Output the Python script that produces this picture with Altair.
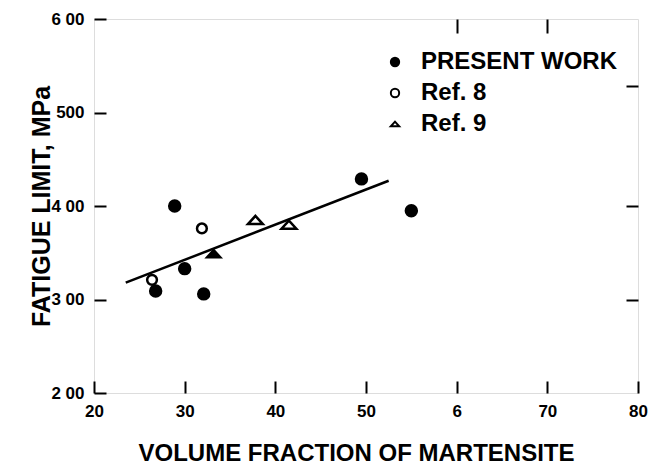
import altair as alt
import pandas as pd

# ---- data ----
series_names = ["PRESENT WORK", "Ref. 8", "Ref. 9"]

present_x = [28.9, 30.0, 26.8, 32.1, 49.5, 55.0]
present_y = [400, 333, 309, 306, 429, 395]
ref8_x = [31.9, 26.4]
ref8_y = [376, 321]
ref9_x = [37.8, 41.5]
ref9_y = [385, 380]
ref9_solid_x = [33.2]
ref9_solid_y = [349]

fit_x = [23.5, 52.5]
fit_y = [318, 427]

x_ticks = [20, 30, 40, 50, 60, 70, 80]
x_tick_labels = ["20", "30", "40", "50", "6", "70", "80"]
y_ticks = [200, 300, 400, 500, 600]
y_tick_labels = ["2 00", "3 00", "4 00", "500", "6 00"]

top_ticks = [60, 70]
right_ticks = [300, 400, 528]

# ---- styling ----
X0, X1, Y0, Y1 = 20, 80, 200, 600
W, H = 544, 374
TICK = 12
TRI = "M -1 0.55 L 1 0.55 L 0 -0.55 Z"
FONT = "Liberation Sans"
marker_area = {"PRESENT WORK": 120, "Ref. 8": 95, "Ref. 9": 220}

# ---- tables ----
series_col = ([series_names[0]] * len(present_x)
              + [series_names[1]] * len(ref8_x)
              + [series_names[2]] * len(ref9_x))
pts = pd.DataFrame({
    "x": present_x + ref8_x + ref9_x,
    "y": present_y + ref8_y + ref9_y,
    "series": series_col,
    "area": [marker_area[s] for s in series_col],
})
solid_tri = pd.DataFrame({"x": ref9_solid_x, "y": ref9_solid_y})
fit = pd.DataFrame({"x": fit_x, "y": fit_y})


def label_expr(values, labels):
    expr = "datum.label"
    for v, l in zip(values, labels):
        expr = f"datum.value == {v} ? '{l}' : ({expr})"
    return expr


xscale = alt.Scale(domain=[X0, X1], nice=False, zero=False)
yscale = alt.Scale(domain=[Y0, Y1], nice=False, zero=False)

common = dict(domain=False, grid=False, ticks=True, tickColor="black",
              tickWidth=2, labelColor="black", titleColor="black",
              labelFlush=False, labelOverlap=False)

xaxis = alt.Axis(
    values=x_ticks, labelExpr=label_expr(x_ticks, x_tick_labels),
    title="VOLUME FRACTION OF MARTENSITE", orient="bottom",
    offset=-TICK, tickSize=TICK, titleX=262,
    labelPadding=10, titlePadding=22, labelFontSize=17, labelFont=FONT,
    labelFontWeight="bold", titleFont=FONT, titleFontSize=24, titleFontWeight="bold",
    **common,
)
yaxis = alt.Axis(
    values=y_ticks, labelExpr=label_expr(y_ticks, y_tick_labels),
    title="FATIGUE LIMIT, MPa", orient="left",
    offset=-TICK, tickSize=TICK,
    labelPadding=10, titleX=-52, labelFontSize=17, labelFont=FONT,
    labelFontWeight="bold", titleFont=FONT, titleFontSize=25, titleFontWeight="bold",
    **common,
)
xaxis_top = alt.Axis(values=top_ticks, orient="top", offset=-14, tickSize=14,
                     labels=False, title=None, **common)
yaxis_right = alt.Axis(values=right_ticks, orient="right", offset=-TICK, tickSize=TICK,
                       labels=False, title=None, **common)

legend = alt.Legend(
    title=" ", titleFontSize=7, titlePadding=4,
    orient="top-right", offset=20,
    labelFont=FONT, labelFontSize=24, labelFontWeight="bold", labelLimit=400,
    labelColor="black", symbolSize=70, symbolStrokeWidth=2,
    labelOffset=14, rowPadding=7,
)

points = alt.Chart(pts).mark_point(
    filled=True, stroke="black", strokeWidth=2.5, opacity=1
).encode(
    x=alt.X("x:Q", scale=xscale, axis=xaxis),
    y=alt.Y("y:Q", scale=yscale, axis=yaxis),
    shape=alt.Shape(
        "series:N",
        scale=alt.Scale(domain=series_names, range=["circle", "circle", TRI]),
        legend=legend,
    ),
    fill=alt.Fill(
        "series:N",
        scale=alt.Scale(domain=series_names, range=["black", "white", "white"]),
        legend=legend,
    ),
    size=alt.Size("area:Q", scale=None, legend=None),
)

solid = alt.Chart(solid_tri).mark_point(
    filled=True, fill="black", stroke="black", strokeWidth=2.5, opacity=1,
    shape=TRI, size=170,
).encode(
    x=alt.X("x:Q", scale=xscale, axis=xaxis_top),
    y=alt.Y("y:Q", scale=yscale, axis=yaxis_right),
)

line = alt.Chart(fit).mark_line(color="black", strokeWidth=2.5).encode(
    x=alt.X("x:Q", scale=xscale, axis=None), y=alt.Y("y:Q", scale=yscale, axis=None)
)

chart = alt.layer(line, points, solid).resolve_axis(
    x="independent", y="independent"
).properties(
    width=W, height=H,
    autosize=alt.AutoSizeParams(type="none"),
    padding={"left": 94, "top": 19, "right": 14, "bottom": 71},
).configure_view(stroke="black", strokeWidth=2.5).configure(background="white")

chart.save("out.html", embed_options={"renderer": "svg", "actions": False})
